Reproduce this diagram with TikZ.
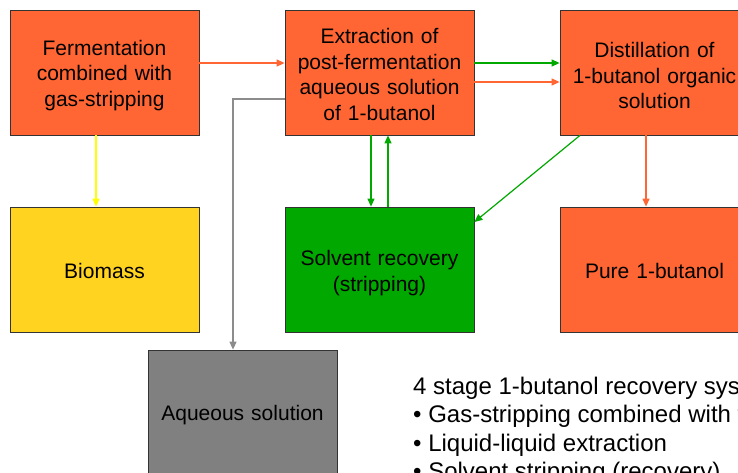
\documentclass[tikz,border=0pt]{standalone}
\usepackage{fontspec}
\setmainfont{Liberation Sans}
\usetikzlibrary{arrows.meta}
\definecolor{boxorange}{HTML}{FF6633}
\definecolor{boxyellow}{HTML}{FFD320}
\definecolor{boxgreen}{HTML}{00A800}
\definecolor{boxgray}{HTML}{808080}
\definecolor{arryellow}{HTML}{FFFF00}
\definecolor{arrgray}{HTML}{8C8C8C}
\begin{document}
\begin{tikzpicture}[x=1pt,y=-1pt,
  box/.style={draw=black!80,line width=0.8pt,minimum width=189pt,minimum height=125pt,inner sep=0pt},
  label/.style={inner sep=0pt,align=center,text width=185pt,font=\fontsize{21}{25.5}\selectfont},
  conn/.style={line width=1.2pt,-{Triangle[length=8pt,width=7pt]}},
  txt/.style={anchor=base west,inner sep=0pt,font=\fontsize{24}{28}\selectfont}]
\useasboundingbox (0,0) rectangle (738,472);
\clip (0,0) rectangle (738,472);
\node[box,fill=boxorange] (A) at (104.5,72.5) {};
\node[box,fill=boxorange] (B) at (379.5,72.5) {};
\node[box,fill=boxorange] (C) at (654.5,72.5) {};
\node[box,fill=boxyellow] (D) at (104.5,269.5) {};
\node[box,fill=boxgreen] (E) at (379.5,269.5) {};
\node[box,fill=boxorange] (F) at (654.5,269.5) {};
\node[box,fill=boxgray] (G) at (242.5,412.5) {};
\node[label] (At) at ([yshift=-3pt]A.center) {Fermentation\\combined with\\gas-stripping};
\node[label] (Bt) at ([yshift=-2pt]B.center) {Extraction of\\post-fermentation\\aqueous solution\\of 1-butanol};
\node[label] (Ct) at ([yshift=-3pt]C.center) {Distillation of\\1-butanol organic\\solution};
\node[label] (Dt) at ([yshift=-1.5pt]D.center) {Biomass};
\node[label] (Et) at ([yshift=-3.5pt]E.center) {Solvent recovery\\(stripping)};
\node[label] (Ft) at ([yshift=-1.5pt]F.center) {Pure 1-butanol};
\node[label] (Gt) at ([yshift=-3pt]G.center) {Aqueous solution};
\draw[conn,boxorange] ([yshift=9.5pt]A.east) -- ([yshift=9.5pt]B.west);
\draw[conn,boxgreen] ([yshift=9.5pt]B.east) -- ([yshift=9.5pt]C.west);
\draw[conn,boxorange] ([yshift=-9.5pt]B.east) -- ([yshift=-9.5pt]C.west);
\draw[conn,arryellow] ([xshift=-8.5pt]A.south) -- ([xshift=-8.5pt]D.north);
\draw[conn,boxgreen] ([xshift=-8.5pt]B.south) -- ([xshift=-8.5pt]E.north);
\draw[conn,boxgreen] ([xshift=8.5pt]E.north) -- ([xshift=8.5pt]B.south);
\draw[conn,boxgreen] ([xshift=-74.5pt]C.south) -- ([yshift=47.5pt]E.east);
\draw[conn,boxorange] ([xshift=-8.5pt]C.south) -- ([xshift=-8.5pt]F.north);
\draw[conn,arrgray] ([yshift=-26.5pt]B.west) -| ([xshift=-9.5pt]G.north);
\node[txt] (t1) at (413,394) {4 stage 1-butanol recovery system};
\node[txt] (t2) at (413,422.5) {• Gas-stripping combined with fermentation};
\node[txt] (t3) at (413,451) {• Liquid-liquid extraction};
\node[txt] (t4) at (413,479.5) {• Solvent stripping (recovery)};
\end{tikzpicture}
\end{document}
